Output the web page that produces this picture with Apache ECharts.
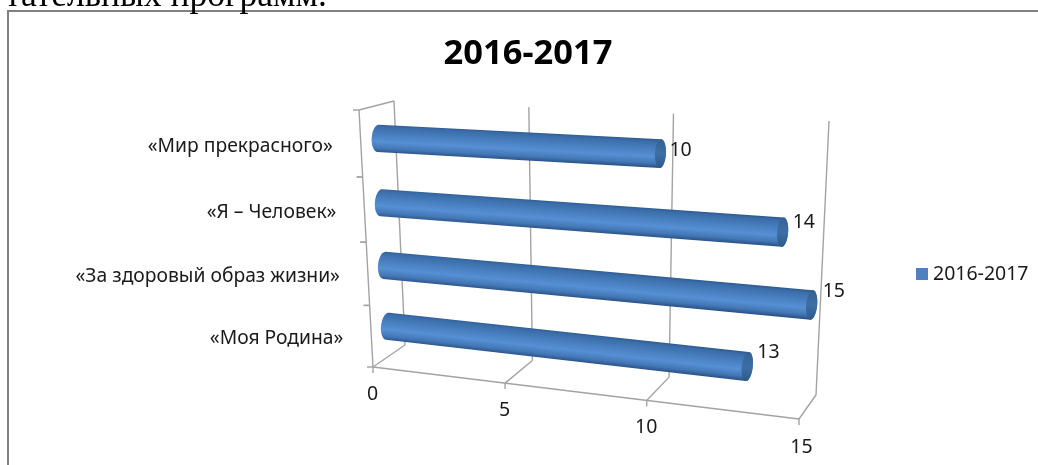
<!DOCTYPE html>
<html><head><meta charset="utf-8">
<style>html,body{margin:0;padding:0;background:#fff}#c{width:1038px;height:465px}</style>
<script src="https://cdn.jsdelivr.net/npm/echarts@6/dist/echarts.min.js"></script>
</head><body><div id="c"></div>
<script>
const titleText = '2016-2017';
const seriesName = '2016-2017';
const categories = ['«Моя Родина»', '«За здоровый образ жизни»', '«Я – Человек»', '«Мир прекрасного»'];
const values = [13, 15, 14, 10];
const xTicks = [0, 5, 10, 15];
const cropText = 'тательных программ.';

const FONT = '"Noto Sans","Open Sans",sans-serif';
const GRID = '#a3a3a3';
// Perspective frame of the 3D box: unit square -> screen quads (bl, br, tr, tl)
const Q = {
  wall:  [[405,345],[816,395],[829,121],[394,101]],
  floor: [[373,367],[799,419],[816,395],[405,345]],
  side:  [[373,367],[405,345],[394,101],[359,110]],
  bars:  [[389,356],[807.5,407],[819,125],[376.5,105.5]]
};
const warp = (t,k)=>t/(k*(1-t)+1);
const KU = 0.113, KH = 0.058;
function plane(q,ku,kv) {
  const [a,b,c,d]=q;
  return (u,v)=>{
    const s=warp(u,ku), t=warp(v,kv);
    const lo=[a[0]+(b[0]-a[0])*s,a[1]+(b[1]-a[1])*s], hi=[d[0]+(c[0]-d[0])*s,d[1]+(c[1]-d[1])*s];
    return [lo[0]+(hi[0]-lo[0])*t,lo[1]+(hi[1]-lo[1])*t];
  };
}
const H = {wall:plane(Q.wall,KU,0), floor:plane(Q.floor,KU,0), side:plane(Q.side,0,KH), bars:plane(Q.bars,KU,KH)};

// library scale -> unit coordinates of the hidden grid
function unit(api, params, v, c) {
  const p = api.coord([v, c]);
  const g = params.coordSys;
  return [(p[0]-g.x)/g.width, (g.y+g.height-p[1])/g.height];
}
const line = (a,b,w)=>({type:'line',shape:{x1:a[0],y1:a[1],x2:b[0],y2:b[1]},style:{stroke:GRID,lineWidth:w||1.4}});
const txt = (s,x,y,size,align)=>({type:'text',style:{text:s,x,y,fill:'#1a1a1a',fontSize:size,fontFamily:FONT,align:align||'center',verticalAlign:'middle'}});

function renderTicks(params, api) {
  const v = api.value(0);
  const u = unit(api, params, v, 0)[0];
  const f = H.floor(u,0), b = H.floor(u,1), t = H.wall(u,1);
  return {type:'group',children:[
    line(b,t), line(f,b), line(f,[f[0],f[1]+6]),
    txt(String(v), f[0]-0.5+(u>0.9?3:0), f[1]+27+(u>0.9?1:0), 19.5)
  ]};
}
function renderFront(params, api) {
  const a = H.floor(0,0), b = H.floor(1,0);
  return line(a,b);
}
function renderSide(params, api) {
  const i = api.value(0);
  const c = [];
  const g = params.coordSys;
  const band = api.size([0,1])[1];
  const py = api.coord([0,i])[1];
  const t = (g.y+g.height-py)/g.height;
  const dt = band/g.height/2;
  const anchor = H.side(0,t);
  c.push(txt(categories[i], anchor[0]-28, anchor[1]+2.5, 19.3, 'right'));
  const low = H.side(0,t-dt), high = H.side(0,t+dt);
  c.push(line([low[0]-6,low[1]],low));
  c.push(line([high[0]-6,high[1]],high));
  c.push(line(low,high));
  if (i === categories.length-1) c.push(line(high,H.side(1,1)));
  return {type:'group',children:c};
}
const labelNudge = {10:[9,-3], 14:[10,-10], 15:[11,-14], 13:[10,-14]};
function renderBar(params, api) {
  const val = api.value(0), cat = api.value(1);
  const s0 = unit(api, params, 0, cat), s1 = unit(api, params, val, cat);
  const A = H.bars(s0[0],s0[1]), B = H.bars(s1[0],s1[1]);
  const len = Math.hypot(B[0]-A[0],B[1]-A[1]);
  const ax=[(B[0]-A[0])/len,(B[1]-A[1])/len], n=[-ax[1],ax[0]];
  const rA=13.6, rB=13.6+1.2*s1[0], exL=6.5, exR=5.5;
  const arc=(C,r,ex,from,to,k)=>{const o=[];for(let j=0;j<=k;j++){const th=from+(to-from)*j/k;
    o.push([C[0]+ax[0]*ex*Math.cos(th)+n[0]*r*Math.sin(th),C[1]+ax[1]*ex*Math.cos(th)+n[1]*r*Math.sin(th)]);}return o;};
  const PI=Math.PI;
  const body=[...arc(B,rB,exR,-PI/2,PI/2,18),...arc(A,rA,exL,PI/2,3*PI/2,18)];
  const R=(rA+rB)/2;
  const grad=new echarts.graphic.LinearGradient(A[0]-n[0]*R,A[1]-n[1]*R,A[0]+n[0]*R,A[1]+n[1]*R,[
    {offset:0,color:'#2e5c90'},{offset:.08,color:'#3a6ca8'},{offset:.35,color:'#487fc0'},
    {offset:.62,color:'#568fd4'},{offset:.85,color:'#4478b6'},{offset:1,color:'#2a5488'}],true);
  const cap=new echarts.graphic.LinearGradient(B[0]-n[0]*rB,B[1]-n[1]*rB,B[0]+n[0]*rB,B[1]+n[1]*rB,[
    {offset:0,color:'#33618f'},{offset:.5,color:'#3d6fa6'},{offset:1,color:'#2d5a8a'}],true);
  const nudge=labelNudge[val]||[10,-10];
  return {type:'group',children:[
    {type:'polygon',shape:{points:body},style:{fill:grad}},
    {type:'polygon',shape:{points:arc(B,rB,exR,0,2*PI,32)},style:{fill:cap}},
    txt(String(val),B[0]+nudge[0],B[1]+nudge[1],19.5,'left')
  ]};
}

const chart = echarts.init(document.getElementById('c'),null,{renderer:'canvas'});
chart.setOption({
  animation:false,
  backgroundColor:'#fff',
  title:{text:titleText,left:523,top:32,textAlign:'center',textStyle:{fontFamily:FONT,fontWeight:'bold',fontSize:34.5,color:'#000'}},
  legend:{data:[seriesName],left:911,top:259,icon:'rect',itemWidth:12,itemHeight:12,itemGap:7,
    textStyle:{fontFamily:FONT,fontSize:19.5,color:'#1a1a1a'}},
  grid:{left:373,right:200,top:100,bottom:50,containLabel:false},
  xAxis:{type:'value',min:0,max:15,interval:5,show:false},
  yAxis:{type:'category',data:categories,show:false},
  graphic:[
    {type:'rect',shape:{x:8,y:11,width:1100,height:600},style:{fill:'#fff',stroke:'#808080',lineWidth:2},z:-1,silent:true},
    {type:'text',left:5,top:-21,style:{text:cropText,font:'35.5px "Liberation Serif",serif',fill:'#000'},z:1}
  ],
  series:[
    {type:'custom',name:'axisTicks',coordinateSystem:'cartesian2d',renderItem:renderTicks,clip:false,silent:true,z:1,
     encode:{x:0},data:xTicks.map(v=>[v,0])},
    {type:'custom',name:'frontEdge',coordinateSystem:'cartesian2d',renderItem:renderFront,clip:false,silent:true,z:1,
     encode:{x:0},data:[[0,0]]},
    {type:'custom',name:'categoryAxis',coordinateSystem:'cartesian2d',renderItem:renderSide,clip:false,silent:true,z:1,
     data:categories.map((c,i)=>[i])},
    {type:'custom',name:seriesName,coordinateSystem:'cartesian2d',renderItem:renderBar,clip:false,z:3,
     itemStyle:{color:'#4f81bd'},encode:{x:0,y:1},data:values.map((v,i)=>[v,i])}
  ]
});
</script></body></html>
